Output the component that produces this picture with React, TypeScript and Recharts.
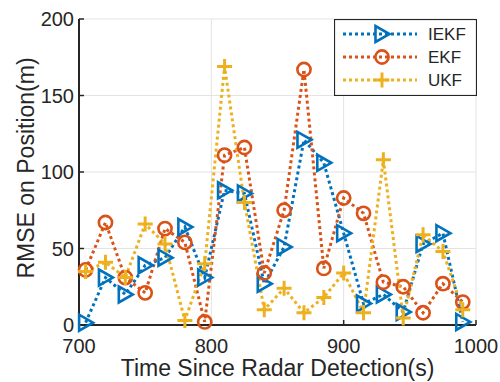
import React from "react";
import { LineChart, Line, XAxis, YAxis, CartesianGrid, Label } from "recharts";

// time since radar detection (s)
const times = [705, 720, 735, 750, 765, 780, 795, 810, 825, 840, 855, 870, 885, 900, 915, 930, 945, 960, 975, 990];
// RMSE on position (m)
const iekf = [1.5, 31, 20, 39, 44, 64, 31, 88, 86, 27, 51, 121, 106, 60, 14, 20, 8.5, 53, 60, 2];
const ekf = [36, 67, 31, 21, 63, 54, 2, 111, 116, 34, 75, 167, 37, 83, 73, 28, 25, 8, 27, 15];
const ukf = [35, 41, 31, 66, 53, 3, 40, 169, 80, 10, 24, 8, 18, 34, 8, 108, 4.5, 59, 48, 10];

const xTicks = [700, 800, 900, 1000];
const yTicks = [0, 50, 100, 150, 200];

const data = times.map((t, i) => ({ t, iekf: iekf[i], ekf: ekf[i], ukf: ukf[i] }));

const BLUE = "#0072BD";
const ORANGE = "#D95319";
const YELLOW = "#EDB120";
const INK = "#262626";
const FONT = "'Liberation Sans', Arial, Helvetica, sans-serif";

type MarkProps = { cx?: number; cy?: number; color: string };

const Tri = ({ cx = 0, cy = 0, color }: MarkProps) => (
  <path
    d={`M${cx - 6.5},${cy - 8} L${cx - 6.5},${cy + 8} L${cx + 7.5},${cy} Z`}
    fill="none"
    stroke={color}
    strokeWidth={2.6}
    strokeLinejoin="miter"
  />
);

const Ring = ({ cx = 0, cy = 0, color }: MarkProps) => (
  <circle cx={cx} cy={cy} r={6.6} fill="none" stroke={color} strokeWidth={2.6} />
);

const Plus = ({ cx = 0, cy = 0, color }: MarkProps) => (
  <path d={`M${cx - 7.5},${cy} H${cx + 7.5} M${cx},${cy - 7.5} V${cy + 7.5}`} stroke={color} strokeWidth={3} />
);

const series = [
  { key: "iekf", name: "IEKF", color: BLUE, Mark: Tri },
  { key: "ekf", name: "EKF", color: ORANGE, Mark: Ring },
  { key: "ukf", name: "UKF", color: YELLOW, Mark: Plus },
];

const tickStyle = { fill: INK, fontSize: 20, fontFamily: FONT };

const YTitle = () => (
  <text
    x={34}
    y={168}
    transform="rotate(-90 34 168)"
    textAnchor="middle"
    fill={INK}
    fontSize={23}
    fontFamily={FONT}
  >
    RMSE on Position(m)
  </text>
);

function LegendBox() {
  return (
    <svg
      width={143}
      height={77}
      style={{ position: "absolute", left: 334, top: 19, pointerEvents: "none" }}
    >
      <rect x={0.5} y={0.5} width={142} height={76} fill="#fff" stroke={INK} strokeWidth={1.2} />
      {series.map((s, i) => {
        const y = 15 + i * 23;
        const M = s.Mark;
        return (
          <g key={s.key}>
            <line x1={9} x2={83} y1={y} y2={y} stroke={s.color} strokeWidth={3} strokeDasharray="3 3" />
            <M cx={48} cy={y} color={s.color} />
            <text x={94} y={y} dy="0.36em" fill={INK} fontSize={17} fontFamily={FONT}>
              {s.name}
            </text>
          </g>
        );
      })}
    </svg>
  );
}

export default function App() {
  return (
    <div style={{ position: "absolute", left: 0, top: 0, width: 500, height: 382, background: "#fff" }}>
      <LineChart width={500} height={382} data={data} margin={{ top: 19, right: 24, left: 0, bottom: 0 }}>
        <CartesianGrid stroke="#e3e3e3" strokeWidth={1} />
        <XAxis
          dataKey="t"
          type="number"
          domain={[700, 1000]}
          ticks={xTicks}
          height={57}
          tick={tickStyle}
          tickSize={-5}
          tickMargin={19}
          axisLine={{ stroke: INK, strokeWidth: 2 }}
          tickLine={{ stroke: INK, strokeWidth: 1.5 }}
        >
          <Label
            value="Time Since Radar Detection(s)"
            position="insideBottom"
            offset={6}
            style={{ fill: INK, fontSize: 23, fontFamily: FONT }}
          />
        </XAxis>
        <XAxis
          xAxisId="top"
          orientation="top"
          type="number"
          domain={[700, 1000]}
          ticks={xTicks}
          height={0}
          tickSize={-5}
          tickFormatter={() => ""}
          axisLine={{ stroke: INK, strokeWidth: 2 }}
          tickLine={{ stroke: INK, strokeWidth: 1.5 }}
        />
        <YAxis
          type="number"
          domain={[0, 200]}
          ticks={yTicks}
          width={79}
          tick={tickStyle}
          tickSize={-5}
          tickMargin={10}
          axisLine={{ stroke: INK, strokeWidth: 2 }}
          tickLine={{ stroke: INK, strokeWidth: 1.5 }}
        >
          <Label content={() => <YTitle />} />
        </YAxis>
        <YAxis
          yAxisId="right"
          orientation="right"
          type="number"
          domain={[0, 200]}
          ticks={yTicks}
          width={0}
          tickSize={-5}
          tickFormatter={() => ""}
          axisLine={{ stroke: INK, strokeWidth: 2 }}
          tickLine={{ stroke: INK, strokeWidth: 1.5 }}
        />
        {series.map((s) => {
          const M = s.Mark;
          return (
            <Line
              key={s.key}
              type="linear"
              dataKey={s.key}
              name={s.name}
              stroke={s.color}
              strokeWidth={3}
              strokeDasharray="3 3"
              isAnimationActive={false}
              dot={(p: any) => <M key={`${s.key}-${p.index}`} cx={p.cx} cy={p.cy} color={s.color} />}
              activeDot={false}
            />
          );
        })}
      </LineChart>
      <LegendBox />
    </div>
  );
}
